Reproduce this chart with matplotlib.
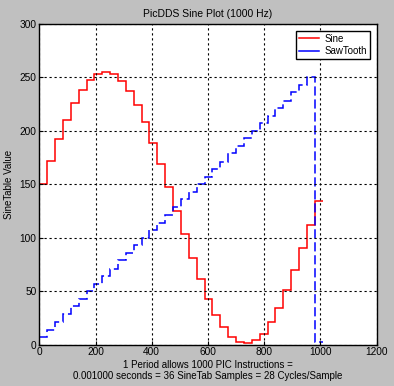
import numpy as np
import matplotlib.pyplot as plt
from matplotlib.lines import Line2D

# Данные: 36 отсчётов по 28 тактов
step = 28
edges = np.arange(37) * step
sine = [150, 172, 192, 210, 226, 238, 248, 253, 255, 253, 247, 237,
        224, 208, 189, 169, 147, 125, 103, 81, 61, 43, 28, 16,
        7, 2, 1, 4, 10, 21, 34, 51, 70, 90, 112, 134]
saw = [7, 14, 21, 29, 36, 43, 50, 57, 64, 71, 79, 86,
       93, 100, 107, 114, 121, 129, 136, 143, 150, 157, 164, 171,
       179, 186, 193, 200, 207, 214, 221, 228, 236, 243, 250, 2]
xticks = [0, 200, 400, 600, 800, 1000, 1200]
yticks = [0, 50, 100, 150, 200, 250, 300]

plt.rcParams['font.family'] = ['Liberation Sans', 'DejaVu Sans']
plt.rcParams['font.size'] = 7

fig = plt.figure(figsize=(3.94, 3.86), dpi=100, facecolor='#c0c0c0')
ax = fig.add_axes([0.0997, 0.1075, 0.8563, 0.8303])
ax.set_facecolor('white')

ax.stairs(sine, edges, baseline=None, color='red', lw=1.1)
ax.stairs(saw, edges, baseline=None, color='blue', lw=1.1,
          linestyle=(0, (6, 2.5)))

ax.set_xlim(0, 1200)
ax.set_ylim(0, 300)
ax.set_xticks(xticks)
ax.set_yticks(yticks)
ax.tick_params(direction='in', length=3, pad=2, colors='black', labelsize=7.3)
ax.grid(True, color='black', linestyle=(0, (2, 2.5)), lw=0.8)
for s in ax.spines.values():
    s.set_color('black')
    s.set_linewidth(1)

ax.set_title('PicDDS Sine Plot (1000 Hz)', fontsize=7.5, pad=5)
ax.set_ylabel('SineTable Value', labelpad=4)
ax.set_xlabel('1 Period allows 1000 PIC Instructions =\n'
              '0.001000 seconds = 36 SineTab Samples = 28 Cycles/Sample',
              labelpad=2, linespacing=1.15)

handles = [Line2D([], [], color='red', lw=1.1),
           Line2D([], [], color='blue', lw=1.1)]
ax.legend(handles, ['Sine', 'SawTooth'], loc='upper right', fancybox=False,
          framealpha=1, edgecolor='black', handlelength=2.0, borderpad=0.3,
          labelspacing=0.25, fontsize=7, borderaxespad=0.7, handletextpad=0.6)

fig.savefig('out.png', dpi=100, facecolor=fig.get_facecolor())
